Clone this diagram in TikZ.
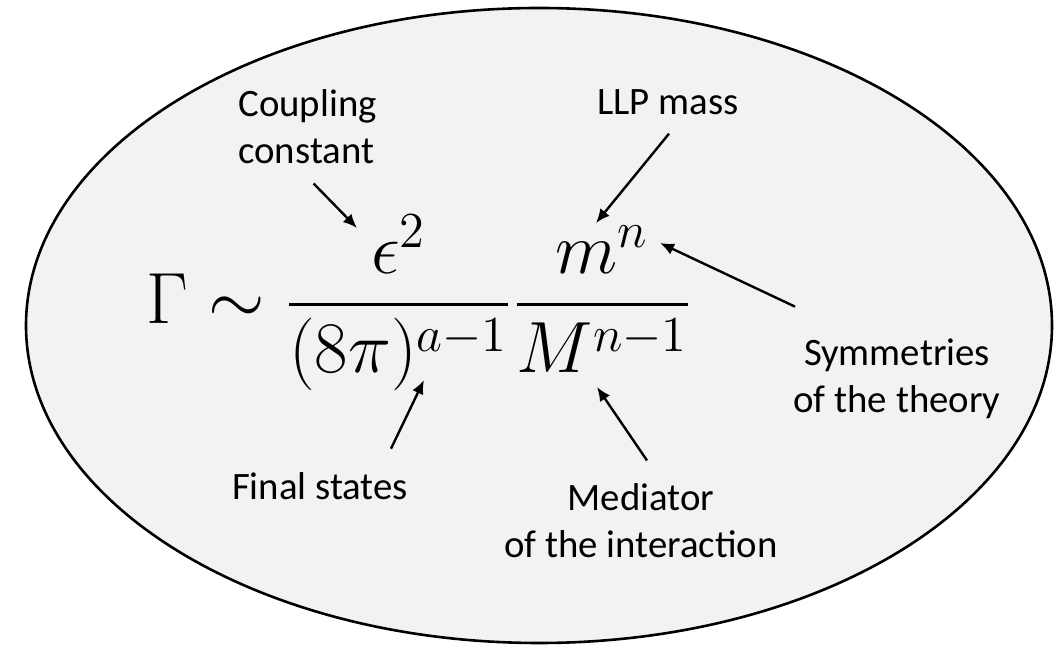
\documentclass[tikz,border=0pt]{standalone}
\usepackage{amsmath}
\usepackage{graphicx}
\usepackage[no-math]{fontspec}
\setmainfont{Carlito}
\usetikzlibrary{arrows.meta}
\tikzset{tagtext/.style={
    font=\fontsize{19.4}{23.5}\selectfont,
    inner sep=0pt
  },
  pointer/.style={line width=1.2pt,-{Latex[length=7pt,width=6pt]}},
  blob/.style={draw,line width=1.3pt,fill=black!5},
  formula/.style={font=\fontsize{20}{24}\selectfont,inner sep=0pt},
}
\begin{document}
\begin{tikzpicture}[x=0.5pt,y=-0.5pt]
  \useasboundingbox (0,0) rectangle (1056,646);
  \draw[blob] (539,325.5) ellipse [x radius=513,y radius=317.5];
  % the width formula
  \node[formula,anchor=west] (width) at (146,303)
    {\scalebox{1.75}{$\displaystyle\Gamma \sim \frac{\epsilon^2}{(8\pi)^{a-1}}\frac{m^n}{M^{n-1}}$}};
  \coordinate (epstip) at (357,228);
  \coordinate (mtip) at (596,223);
  \coordinate (ntip) at (660,243);
  \coordinate (pitip) at (424,380);
  \coordinate (Mtip) at (597,387);
  % what each part stands for
  \node[tagtext,align=left,anchor=west] (coupling) at (238,127) {Coupling\\constant};
  \node[tagtext,anchor=base] (llpmass) at (668,115) {LLP mass};
  \node[tagtext,align=center] (symmetries) at (897,379) {Symmetries\\of the theory};
  \node[tagtext,anchor=base] (finalstates) at (320,500) {Final states};
  \node[tagtext,align=center] (mediator) at (641,521) {Mediator\\of the interaction};
  \draw[pointer] ([shift={(6,19)}]coupling.south) -- (epstip);
  \draw[pointer] ([shift={(1,18)}]llpmass.south) -- (mtip);
  \draw[pointer] ([shift={(-102,-32)}]symmetries.north) -- (ntip);
  \draw[pointer] ([shift={(71,-24)}]finalstates.north) -- (pitip);
  \draw[pointer] ([shift={(6,-23)}]mediator.north) -- (Mtip);
\end{tikzpicture}
\end{document}
